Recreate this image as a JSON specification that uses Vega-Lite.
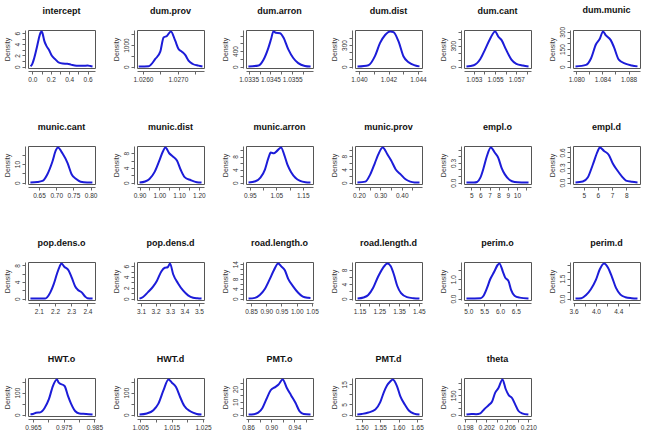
{
"$schema":"https://vega.github.io/schema/vega-lite/v6.json",
"padding":{"left":2,"top":5,"right":0,"bottom":0},
"background":"white",
"datasets":{"d":[
{"p":"intercept","x":-0.02,"y":0.05},{"p":"intercept","x":0.0,"y":0.5},{"p":"intercept","x":0.02,"y":1.5},{"p":"intercept","x":0.05,"y":3.5},{"p":"intercept","x":0.07,"y":5.0},{"p":"intercept","x":0.09,"y":6.1},{"p":"intercept","x":0.10,"y":6.3},{"p":"intercept","x":0.11,"y":6.0},{"p":"intercept","x":0.13,"y":4.6},{"p":"intercept","x":0.15,"y":3.8},{"p":"intercept","x":0.18,"y":3.0},{"p":"intercept","x":0.21,"y":2.0},{"p":"intercept","x":0.25,"y":1.3},{"p":"intercept","x":0.29,"y":0.7},{"p":"intercept","x":0.33,"y":0.55},{"p":"intercept","x":0.38,"y":0.5},{"p":"intercept","x":0.42,"y":0.35},{"p":"intercept","x":0.46,"y":0.2},{"p":"intercept","x":0.50,"y":0.15},{"p":"intercept","x":0.55,"y":0.15},{"p":"intercept","x":0.60,"y":0.18},{"p":"intercept","x":0.63,"y":0.1},{"p":"intercept","x":0.653,"y":0.02},
{"p":"dum.prov","x":1.025878,"y":2},{"p":"dum.prov","x":1.026163,"y":20},{"p":"dum.prov","x":1.026354,"y":354},{"p":"dum.prov","x":1.026497,"y":690},{"p":"dum.prov","x":1.026592,"y":1350},{"p":"dum.prov","x":1.026687,"y":1420},{"p":"dum.prov","x":1.026801,"y":1630},{"p":"dum.prov","x":1.026925,"y":1200},{"p":"dum.prov","x":1.02702,"y":815},{"p":"dum.prov","x":1.027116,"y":690},{"p":"dum.prov","x":1.027211,"y":540},{"p":"dum.prov","x":1.027306,"y":280},{"p":"dum.prov","x":1.02743,"y":120},{"p":"dum.prov","x":1.027592,"y":45},{"p":"dum.prov","x":1.027706,"y":5},
{"p":"dum.arron","x":1.03349,"y":2},{"p":"dum.arron","x":1.033955,"y":30},{"p":"dum.arron","x":1.034182,"y":178},{"p":"dum.arron","x":1.034409,"y":490},{"p":"dum.arron","x":1.03453,"y":710},{"p":"dum.arron","x":1.034636,"y":906},{"p":"dum.arron","x":1.034742,"y":870},{"p":"dum.arron","x":1.034939,"y":860},{"p":"dum.arron","x":1.03509,"y":755},{"p":"dum.arron","x":1.035318,"y":444},{"p":"dum.arron","x":1.035545,"y":222},{"p":"dum.arron","x":1.035773,"y":89},{"p":"dum.arron","x":1.036076,"y":18},{"p":"dum.arron","x":1.03634,"y":2},
{"p":"dum.dist","x":1.0399,"y":1},{"p":"dum.dist","x":1.04064,"y":20},{"p":"dum.dist","x":1.04109,"y":150},{"p":"dum.dist","x":1.04143,"y":330},{"p":"dum.dist","x":1.04177,"y":440},{"p":"dum.dist","x":1.04211,"y":490},{"p":"dum.dist","x":1.04234,"y":480},{"p":"dum.dist","x":1.04268,"y":350},{"p":"dum.dist","x":1.04302,"y":140},{"p":"dum.dist","x":1.04336,"y":60},{"p":"dum.dist","x":1.04382,"y":15},{"p":"dum.dist","x":1.0441,"y":3},
{"p":"dum.cant","x":1.05231,"y":1},{"p":"dum.cant","x":1.053,"y":20},{"p":"dum.cant","x":1.053615,"y":110},{"p":"dum.cant","x":1.054077,"y":250},{"p":"dum.cant","x":1.054538,"y":400},{"p":"dum.cant","x":1.055,"y":505},{"p":"dum.cant","x":1.055308,"y":430},{"p":"dum.cant","x":1.055615,"y":380},{"p":"dum.cant","x":1.056015,"y":250},{"p":"dum.cant","x":1.056538,"y":100},{"p":"dum.cant","x":1.057,"y":40},{"p":"dum.cant","x":1.057615,"y":15},{"p":"dum.cant","x":1.05815,"y":2},
{"p":"dum.munic","x":1.07988,"y":1},{"p":"dum.munic","x":1.0815,"y":15},{"p":"dum.munic","x":1.08225,"y":70},{"p":"dum.munic","x":1.083,"y":190},{"p":"dum.munic","x":1.0836,"y":240},{"p":"dum.munic","x":1.0841,"y":303},{"p":"dum.munic","x":1.0845,"y":270},{"p":"dum.munic","x":1.08525,"y":230},{"p":"dum.munic","x":1.08575,"y":170},{"p":"dum.munic","x":1.0865,"y":60},{"p":"dum.munic","x":1.0875,"y":25},{"p":"dum.munic","x":1.0885,"y":10},{"p":"dum.munic","x":1.08937,"y":2},
{"p":"munic.cant","x":0.625,"y":0.05},{"p":"munic.cant","x":0.645,"y":0.3},{"p":"munic.cant","x":0.66,"y":0.9},{"p":"munic.cant","x":0.674,"y":4.4},{"p":"munic.cant","x":0.689,"y":11.4},{"p":"munic.cant","x":0.699,"y":17.5},{"p":"munic.cant","x":0.705,"y":19},{"p":"munic.cant","x":0.718,"y":15.8},{"p":"munic.cant","x":0.733,"y":10.5},{"p":"munic.cant","x":0.745,"y":4.4},{"p":"munic.cant","x":0.757,"y":2.1},{"p":"munic.cant","x":0.771,"y":0.5},{"p":"munic.cant","x":0.79,"y":0.05},{"p":"munic.cant","x":0.805,"y":0},
{"p":"munic.dist","x":0.90,"y":0},{"p":"munic.dist","x":0.928,"y":0.3},{"p":"munic.dist","x":0.95,"y":1},{"p":"munic.dist","x":0.977,"y":3},{"p":"munic.dist","x":1.0,"y":6},{"p":"munic.dist","x":1.018,"y":8.5},{"p":"munic.dist","x":1.031,"y":9.6},{"p":"munic.dist","x":1.05,"y":8},{"p":"munic.dist","x":1.067,"y":7.2},{"p":"munic.dist","x":1.089,"y":6},{"p":"munic.dist","x":1.108,"y":3.5},{"p":"munic.dist","x":1.128,"y":1.5},{"p":"munic.dist","x":1.158,"y":0.7},{"p":"munic.dist","x":1.19,"y":0.1},{"p":"munic.dist","x":1.2135,"y":0},
{"p":"munic.arron","x":0.945,"y":0},{"p":"munic.arron","x":0.971,"y":0.4},{"p":"munic.arron","x":0.99,"y":1.5},{"p":"munic.arron","x":1.007,"y":4},{"p":"munic.arron","x":1.02,"y":7.5},{"p":"munic.arron","x":1.029,"y":9.2},{"p":"munic.arron","x":1.041,"y":9.0},{"p":"munic.arron","x":1.05,"y":9.5},{"p":"munic.arron","x":1.068,"y":10.8},{"p":"munic.arron","x":1.08,"y":8.5},{"p":"munic.arron","x":1.092,"y":5.5},{"p":"munic.arron","x":1.106,"y":3.2},{"p":"munic.arron","x":1.122,"y":1.5},{"p":"munic.arron","x":1.14,"y":0.5},{"p":"munic.arron","x":1.16,"y":0.1},{"p":"munic.arron","x":1.179,"y":0},
{"p":"munic.prov","x":0.193,"y":0},{"p":"munic.prov","x":0.23,"y":0.3},{"p":"munic.prov","x":0.253,"y":2.5},{"p":"munic.prov","x":0.275,"y":6},{"p":"munic.prov","x":0.29,"y":8.5},{"p":"munic.prov","x":0.311,"y":10.7},{"p":"munic.prov","x":0.334,"y":8.5},{"p":"munic.prov","x":0.35,"y":6.8},{"p":"munic.prov","x":0.372,"y":4},{"p":"munic.prov","x":0.395,"y":2.5},{"p":"munic.prov","x":0.418,"y":1},{"p":"munic.prov","x":0.44,"y":0.3},{"p":"munic.prov","x":0.46,"y":0.05},{"p":"munic.prov","x":0.483,"y":0},
{"p":"empl.o","x":4.48,"y":0},{"p":"empl.o","x":5.3,"y":0.002},{"p":"empl.o","x":5.64,"y":0.01},{"p":"empl.o","x":6.0,"y":0.075},{"p":"empl.o","x":6.36,"y":0.225},{"p":"empl.o","x":6.71,"y":0.4},{"p":"empl.o","x":7.14,"y":0.535},{"p":"empl.o","x":7.61,"y":0.45},{"p":"empl.o","x":7.96,"y":0.375},{"p":"empl.o","x":8.32,"y":0.225},{"p":"empl.o","x":8.68,"y":0.125},{"p":"empl.o","x":9.21,"y":0.04},{"p":"empl.o","x":9.75,"y":0.01},{"p":"empl.o","x":10.5,"y":0.002},{"p":"empl.o","x":11.27,"y":0},
{"p":"empl.d","x":4.415,"y":0},{"p":"empl.d","x":4.93,"y":0.02},{"p":"empl.d","x":5.28,"y":0.1},{"p":"empl.d","x":5.63,"y":0.35},{"p":"empl.d","x":5.98,"y":0.62},{"p":"empl.d","x":6.13,"y":0.70},{"p":"empl.d","x":6.43,"y":0.63},{"p":"empl.d","x":6.77,"y":0.55},{"p":"empl.d","x":7.05,"y":0.38},{"p":"empl.d","x":7.35,"y":0.25},{"p":"empl.d","x":7.7,"y":0.12},{"p":"empl.d","x":7.98,"y":0.04},{"p":"empl.d","x":8.4,"y":0.015},{"p":"empl.d","x":8.795,"y":0},
{"p":"pop.dens.o","x":2.048,"y":0},{"p":"pop.dens.o","x":2.14,"y":0.02},{"p":"pop.dens.o","x":2.151,"y":0.3},{"p":"pop.dens.o","x":2.171,"y":1.5},{"p":"pop.dens.o","x":2.192,"y":3.5},{"p":"pop.dens.o","x":2.212,"y":6},{"p":"pop.dens.o","x":2.229,"y":7.8},{"p":"pop.dens.o","x":2.239,"y":8.5},{"p":"pop.dens.o","x":2.257,"y":7.7},{"p":"pop.dens.o","x":2.284,"y":6.8},{"p":"pop.dens.o","x":2.304,"y":5},{"p":"pop.dens.o","x":2.324,"y":3},{"p":"pop.dens.o","x":2.339,"y":2.2},{"p":"pop.dens.o","x":2.365,"y":1.5},{"p":"pop.dens.o","x":2.386,"y":0.5},{"p":"pop.dens.o","x":2.4,"y":0.1},{"p":"pop.dens.o","x":2.432,"y":0},
{"p":"pop.dens.d","x":3.089,"y":0},{"p":"pop.dens.d","x":3.114,"y":0.3},{"p":"pop.dens.d","x":3.148,"y":1.2},{"p":"pop.dens.d","x":3.183,"y":2.2},{"p":"pop.dens.d","x":3.21,"y":3.3},{"p":"pop.dens.d","x":3.24,"y":5.0},{"p":"pop.dens.d","x":3.264,"y":5.7},{"p":"pop.dens.d","x":3.284,"y":5.8},{"p":"pop.dens.d","x":3.30,"y":6.5},{"p":"pop.dens.d","x":3.322,"y":4.5},{"p":"pop.dens.d","x":3.356,"y":2.8},{"p":"pop.dens.d","x":3.39,"y":1.5},{"p":"pop.dens.d","x":3.425,"y":0.6},{"p":"pop.dens.d","x":3.46,"y":0.15},{"p":"pop.dens.d","x":3.49,"y":0.05},{"p":"pop.dens.d","x":3.518,"y":0},
{"p":"road.length.o","x":0.842,"y":0},{"p":"road.length.o","x":0.863,"y":0.3},{"p":"road.length.o","x":0.879,"y":1.5},{"p":"road.length.o","x":0.896,"y":4},{"p":"road.length.o","x":0.912,"y":8},{"p":"road.length.o","x":0.925,"y":11.5},{"p":"road.length.o","x":0.939,"y":14.3},{"p":"road.length.o","x":0.95,"y":13},{"p":"road.length.o","x":0.961,"y":11.5},{"p":"road.length.o","x":0.972,"y":8},{"p":"road.length.o","x":0.988,"y":5},{"p":"road.length.o","x":1.004,"y":2.5},{"p":"road.length.o","x":1.02,"y":0.8},{"p":"road.length.o","x":1.037,"y":0.3},{"p":"road.length.o","x":1.045,"y":0.2},
{"p":"road.length.d","x":1.14,"y":0},{"p":"road.length.d","x":1.17,"y":0.3},{"p":"road.length.d","x":1.194,"y":1},{"p":"road.length.d","x":1.219,"y":3},{"p":"road.length.d","x":1.243,"y":6},{"p":"road.length.d","x":1.268,"y":8.5},{"p":"road.length.d","x":1.291,"y":9.8},{"p":"road.length.d","x":1.308,"y":9},{"p":"road.length.d","x":1.325,"y":6.5},{"p":"road.length.d","x":1.341,"y":3.5},{"p":"road.length.d","x":1.36,"y":1.5},{"p":"road.length.d","x":1.39,"y":0.4},{"p":"road.length.d","x":1.423,"y":0.1},{"p":"road.length.d","x":1.453,"y":0},
{"p":"perim.o","x":4.94,"y":0},{"p":"perim.o","x":5.39,"y":0.02},{"p":"perim.o","x":5.48,"y":0.15},{"p":"perim.o","x":5.59,"y":0.55},{"p":"perim.o","x":5.69,"y":1.0},{"p":"perim.o","x":5.82,"y":1.4},{"p":"perim.o","x":5.93,"y":1.75},{"p":"perim.o","x":5.98,"y":1.82},{"p":"perim.o","x":6.09,"y":1.4},{"p":"perim.o","x":6.16,"y":1.1},{"p":"perim.o","x":6.27,"y":0.9},{"p":"perim.o","x":6.35,"y":0.45},{"p":"perim.o","x":6.46,"y":0.15},{"p":"perim.o","x":6.62,"y":0.05},{"p":"perim.o","x":6.9,"y":0},
{"p":"perim.d","x":3.635,"y":0},{"p":"perim.d","x":3.74,"y":0.03},{"p":"perim.d","x":3.82,"y":0.25},{"p":"perim.d","x":3.91,"y":0.7},{"p":"perim.d","x":4.0,"y":1.4},{"p":"perim.d","x":4.07,"y":2.2},{"p":"perim.d","x":4.146,"y":2.64},{"p":"perim.d","x":4.22,"y":2.3},{"p":"perim.d","x":4.29,"y":1.6},{"p":"perim.d","x":4.36,"y":0.8},{"p":"perim.d","x":4.44,"y":0.3},{"p":"perim.d","x":4.53,"y":0.1},{"p":"perim.d","x":4.64,"y":0.03},{"p":"perim.d","x":4.745,"y":0},
{"p":"HWT.o","x":0.9642,"y":2},{"p":"HWT.o","x":0.965,"y":3},{"p":"HWT.o","x":0.966,"y":8},{"p":"HWT.o","x":0.9674,"y":10},{"p":"HWT.o","x":0.9688,"y":30},{"p":"HWT.o","x":0.9702,"y":70},{"p":"HWT.o","x":0.9715,"y":130},{"p":"HWT.o","x":0.9728,"y":160},{"p":"HWT.o","x":0.9734,"y":145},{"p":"HWT.o","x":0.9753,"y":130},{"p":"HWT.o","x":0.9764,"y":85},{"p":"HWT.o","x":0.9774,"y":50},{"p":"HWT.o","x":0.9788,"y":15},{"p":"HWT.o","x":0.9801,"y":5},{"p":"HWT.o","x":0.9823,"y":3},{"p":"HWT.o","x":0.9844,"y":0},
{"p":"HWT.d","x":1.0048,"y":0},{"p":"HWT.d","x":1.0071,"y":5},{"p":"HWT.d","x":1.0092,"y":20},{"p":"HWT.d","x":1.0108,"y":50},{"p":"HWT.d","x":1.0124,"y":110},{"p":"HWT.d","x":1.014,"y":160},{"p":"HWT.d","x":1.0151,"y":145},{"p":"HWT.d","x":1.0164,"y":125},{"p":"HWT.d","x":1.0177,"y":80},{"p":"HWT.d","x":1.019,"y":40},{"p":"HWT.d","x":1.0209,"y":15},{"p":"HWT.d","x":1.023,"y":3},{"p":"HWT.d","x":1.0245,"y":0},
{"p":"PMT.o","x":0.861,"y":0},{"p":"PMT.o","x":0.87,"y":0.3},{"p":"PMT.o","x":0.8775,"y":1.5},{"p":"PMT.o","x":0.8846,"y":5},{"p":"PMT.o","x":0.8916,"y":12},{"p":"PMT.o","x":0.899,"y":19},{"p":"PMT.o","x":0.9068,"y":21.5},{"p":"PMT.o","x":0.9126,"y":23.5},{"p":"PMT.o","x":0.9197,"y":27.5},{"p":"PMT.o","x":0.9267,"y":21},{"p":"PMT.o","x":0.9343,"y":15},{"p":"PMT.o","x":0.942,"y":9},{"p":"PMT.o","x":0.949,"y":2.5},{"p":"PMT.o","x":0.956,"y":0.5},{"p":"PMT.o","x":0.9677,"y":0.1},
{"p":"PMT.d","x":1.488,"y":0},{"p":"PMT.d","x":1.5,"y":0.3},{"p":"PMT.d","x":1.518,"y":1},{"p":"PMT.d","x":1.537,"y":2.5},{"p":"PMT.d","x":1.55,"y":6},{"p":"PMT.d","x":1.56,"y":11},{"p":"PMT.d","x":1.569,"y":14.5},{"p":"PMT.d","x":1.578,"y":16.5},{"p":"PMT.d","x":1.5844,"y":17.4},{"p":"PMT.d","x":1.596,"y":14},{"p":"PMT.d","x":1.605,"y":9},{"p":"PMT.d","x":1.617,"y":5},{"p":"PMT.d","x":1.628,"y":2},{"p":"PMT.d","x":1.642,"y":0.5},{"p":"PMT.d","x":1.657,"y":0},
{"p":"theta","x":0.19827,"y":0},{"p":"theta","x":0.1992,"y":5},{"p":"theta","x":0.2001,"y":3},{"p":"theta","x":0.2009,"y":10},{"p":"theta","x":0.2016,"y":40},{"p":"theta","x":0.2025,"y":75},{"p":"theta","x":0.2031,"y":100},{"p":"theta","x":0.2037,"y":170},{"p":"theta","x":0.2043,"y":205},{"p":"theta","x":0.2051,"y":275},{"p":"theta","x":0.2057,"y":200},{"p":"theta","x":0.2063,"y":150},{"p":"theta","x":0.2069,"y":130},{"p":"theta","x":0.2075,"y":80},{"p":"theta","x":0.2081,"y":30},{"p":"theta","x":0.2088,"y":10},{"p":"theta","x":0.21,"y":0}
]},
"columns":6,
"spacing":{"row":78,"column":42},
"bounds":"flush",
"concat":[
{"title":"intercept","data":{"name":"d"},"transform":[{"filter":"datum.p=='intercept'"}],"mark":{"type":"line","color":"#1c1cd8","strokeWidth":2,"interpolate":"monotone"},
"encoding":{"x":{"field":"x","type":"quantitative","title":null,"scale":{"domain":[-0.047,0.68],"nice":false,"zero":false},"axis":{"values":[0,0.1,0.2,0.3,0.4,0.5,0.6],"format":".1f","labelExpr":"indexof(['0.0','0.2','0.4','0.6'],datum.label)>=0?datum.label:''"}},
"y":{"field":"y","type":"quantitative","title":"Density","scale":{"domain":[-0.25,6.55],"nice":false,"zero":false},"axis":{"values":[0,1,2,3,4,5,6],"format":"d","labelExpr":"indexof(['0','2','4','6'],datum.label)>=0?datum.label:''"}}}},
{"title":"dum.prov","data":{"name":"d"},"transform":[{"filter":"datum.p=='dum.prov'"}],"mark":{"type":"line","color":"#1c1cd8","strokeWidth":2,"interpolate":"monotone"},
"encoding":{"x":{"field":"x","type":"quantitative","title":null,"scale":{"domain":[1.02583,1.02775],"nice":false,"zero":false},"axis":{"values":[1.026,1.0265,1.027,1.0275],"format":".4f","labelExpr":"indexof(['1.0260','1.0270'],datum.label)>=0?datum.label:''"}},
"y":{"field":"y","type":"quantitative","title":"Density","scale":{"domain":[-65,1695],"nice":false,"zero":false},"axis":{"values":[0,500,1000,1500],"format":"d","labelExpr":"indexof(['0','1000'],datum.label)>=0?datum.label:''"}}}},
{"title":"dum.arron","data":{"name":"d"},"transform":[{"filter":"datum.p=='dum.arron'"}],"mark":{"type":"line","color":"#1c1cd8","strokeWidth":2,"interpolate":"monotone"},
"encoding":{"x":{"field":"x","type":"quantitative","title":null,"scale":{"domain":[1.03338,1.03645],"nice":false,"zero":false},"axis":{"values":[1.0335,1.034,1.0345,1.035,1.0355,1.036],"format":".4f","labelExpr":"indexof(['1.0335','1.0345','1.0355'],datum.label)>=0?datum.label:''"}},
"y":{"field":"y","type":"quantitative","title":"Density","scale":{"domain":[-36,942],"nice":false,"zero":false},"axis":{"values":[0,200,400,600,800],"format":"d","labelExpr":"indexof(['0','400'],datum.label)>=0?datum.label:''"}}}},
{"title":"dum.dist","data":{"name":"d"},"transform":[{"filter":"datum.p=='dum.dist'"}],"mark":{"type":"line","color":"#1c1cd8","strokeWidth":2,"interpolate":"monotone"},
"encoding":{"x":{"field":"x","type":"quantitative","title":null,"scale":{"domain":[1.03973,1.04427],"nice":false,"zero":false},"axis":{"values":[1.04,1.041,1.042,1.043,1.044],"format":".3f","labelExpr":"indexof(['1.040','1.042','1.044'],datum.label)>=0?datum.label:''"}},
"y":{"field":"y","type":"quantitative","title":"Density","scale":{"domain":[-19.6,509.6],"nice":false,"zero":false},"axis":{"values":[0,100,200,300,400],"format":"d","labelExpr":"indexof(['0','300'],datum.label)>=0?datum.label:''"}}}},
{"title":"dum.cant","data":{"name":"d"},"transform":[{"filter":"datum.p=='dum.cant'"}],"mark":{"type":"line","color":"#1c1cd8","strokeWidth":2,"interpolate":"monotone"},
"encoding":{"x":{"field":"x","type":"quantitative","title":null,"scale":{"domain":[1.05208,1.05838],"nice":false,"zero":false},"axis":{"values":[1.053,1.054,1.055,1.056,1.057,1.058],"format":".3f","labelExpr":"indexof(['1.053','1.055','1.057'],datum.label)>=0?datum.label:''"}},
"y":{"field":"y","type":"quantitative","title":"Density","scale":{"domain":[-20,525],"nice":false,"zero":false},"axis":{"values":[0,100,200,300,400,500],"format":"d","labelExpr":"indexof(['0','300'],datum.label)>=0?datum.label:''"}}}},
{"title":"dum.munic","data":{"name":"d"},"transform":[{"filter":"datum.p=='dum.munic'"}],"mark":{"type":"line","color":"#1c1cd8","strokeWidth":2,"interpolate":"monotone"},
"encoding":{"x":{"field":"x","type":"quantitative","title":null,"scale":{"domain":[1.0795,1.08975],"nice":false,"zero":false},"axis":{"values":[1.08,1.082,1.084,1.086,1.088],"format":".3f","labelExpr":"indexof(['1.080','1.084','1.088'],datum.label)>=0?datum.label:''"}},
"y":{"field":"y","type":"quantitative","title":"Density","scale":{"domain":[-12,315],"nice":false,"zero":false},"axis":{"values":[0,50,100,150,200,250,300],"format":"d","labelExpr":"indexof(['0','150','300'],datum.label)>=0?datum.label:''"}}}},
{"title":"munic.cant","data":{"name":"d"},"transform":[{"filter":"datum.p=='munic.cant'"}],"mark":{"type":"line","color":"#1c1cd8","strokeWidth":2,"interpolate":"monotone"},
"encoding":{"x":{"field":"x","type":"quantitative","title":null,"scale":{"domain":[0.618,0.8126],"nice":false,"zero":false},"axis":{"values":[0.65,0.7,0.75,0.8],"format":".2f"}},
"y":{"field":"y","type":"quantitative","title":"Density","scale":{"domain":[-0.76,19.76],"nice":false,"zero":false},"axis":{"values":[0,5,10,15],"format":"d","labelExpr":"indexof(['0','10'],datum.label)>=0?datum.label:''"}}}},
{"title":"munic.dist","data":{"name":"d"},"transform":[{"filter":"datum.p=='munic.dist'"}],"mark":{"type":"line","color":"#1c1cd8","strokeWidth":2,"interpolate":"monotone"},
"encoding":{"x":{"field":"x","type":"quantitative","title":null,"scale":{"domain":[0.887,1.226],"nice":false,"zero":false},"axis":{"values":[0.9,0.95,1.0,1.05,1.1,1.15,1.2],"format":".2f","labelExpr":"indexof(['0.90','1.00','1.10','1.20'],datum.label)>=0?datum.label:''"}},
"y":{"field":"y","type":"quantitative","title":"Density","scale":{"domain":[-0.38,9.98],"nice":false,"zero":false},"axis":{"values":[0,2,4,6,8],"format":"d","labelExpr":"indexof(['0','4','8'],datum.label)>=0?datum.label:''"}}}},
{"title":"munic.arron","data":{"name":"d"},"transform":[{"filter":"datum.p=='munic.arron'"}],"mark":{"type":"line","color":"#1c1cd8","strokeWidth":2,"interpolate":"monotone"},
"encoding":{"x":{"field":"x","type":"quantitative","title":null,"scale":{"domain":[0.9355,1.1886],"nice":false,"zero":false},"axis":{"values":[0.95,1.0,1.05,1.1,1.15],"format":".2f","labelExpr":"indexof(['0.95','1.05','1.15'],datum.label)>=0?datum.label:''"}},
"y":{"field":"y","type":"quantitative","title":"Density","scale":{"domain":[-0.43,11.23],"nice":false,"zero":false},"axis":{"values":[0,2,4,6,8,10],"format":"d","labelExpr":"indexof(['0','4','8'],datum.label)>=0?datum.label:''"}}}},
{"title":"munic.prov","data":{"name":"d"},"transform":[{"filter":"datum.p=='munic.prov'"}],"mark":{"type":"line","color":"#1c1cd8","strokeWidth":2,"interpolate":"monotone"},
"encoding":{"x":{"field":"x","type":"quantitative","title":null,"scale":{"domain":[0.1817,0.4947],"nice":false,"zero":false},"axis":{"values":[0.2,0.25,0.3,0.35,0.4,0.45],"format":".2f","labelExpr":"indexof(['0.20','0.30','0.40'],datum.label)>=0?datum.label:''"}},
"y":{"field":"y","type":"quantitative","title":"Density","scale":{"domain":[-0.43,11.13],"nice":false,"zero":false},"axis":{"values":[0,2,4,6,8,10],"format":"d","labelExpr":"indexof(['0','4','8'],datum.label)>=0?datum.label:''"}}}},
{"title":"empl.o","data":{"name":"d"},"transform":[{"filter":"datum.p=='empl.o'"}],"mark":{"type":"line","color":"#1c1cd8","strokeWidth":2,"interpolate":"monotone"},
"encoding":{"x":{"field":"x","type":"quantitative","title":null,"scale":{"domain":[4.21,11.54],"nice":false,"zero":false},"axis":{"values":[5,6,7,8,9,10,11],"format":"d","labelExpr":"datum.label=='11'?'':datum.label"}},
"y":{"field":"y","type":"quantitative","title":"Density","scale":{"domain":[-0.021,0.556],"nice":false,"zero":false},"axis":{"values":[0,0.1,0.2,0.3,0.4,0.5],"format":".1f","labelExpr":"indexof(['0.0','0.3'],datum.label)>=0?datum.label:''"}}}},
{"title":"empl.d","data":{"name":"d"},"transform":[{"filter":"datum.p=='empl.d'"}],"mark":{"type":"line","color":"#1c1cd8","strokeWidth":2,"interpolate":"monotone"},
"encoding":{"x":{"field":"x","type":"quantitative","title":null,"scale":{"domain":[4.24,8.97],"nice":false,"zero":false},"axis":{"values":[5,6,7,8],"format":"d"}},
"y":{"field":"y","type":"quantitative","title":"Density","scale":{"domain":[-0.028,0.728],"nice":false,"zero":false},"axis":{"values":[0,0.1,0.2,0.3,0.4,0.5,0.6,0.7],"format":".1f","labelExpr":"indexof(['0.0','0.3','0.6'],datum.label)>=0?datum.label:''"}}}},
{"title":"pop.dens.o","data":{"name":"d"},"transform":[{"filter":"datum.p=='pop.dens.o'"}],"mark":{"type":"line","color":"#1c1cd8","strokeWidth":2,"interpolate":"monotone"},
"encoding":{"x":{"field":"x","type":"quantitative","title":null,"scale":{"domain":[2.033,2.447],"nice":false,"zero":false},"axis":{"values":[2.1,2.2,2.3,2.4],"format":".1f"}},
"y":{"field":"y","type":"quantitative","title":"Density","scale":{"domain":[-0.34,8.84],"nice":false,"zero":false},"axis":{"values":[0,2,4,6,8],"format":"d","labelExpr":"indexof(['0','4','8'],datum.label)>=0?datum.label:''"}}}},
{"title":"pop.dens.d","data":{"name":"d"},"transform":[{"filter":"datum.p=='pop.dens.d'"}],"mark":{"type":"line","color":"#1c1cd8","strokeWidth":2,"interpolate":"monotone"},
"encoding":{"x":{"field":"x","type":"quantitative","title":null,"scale":{"domain":[3.072,3.535],"nice":false,"zero":false},"axis":{"values":[3.1,3.2,3.3,3.4,3.5],"format":".1f"}},
"y":{"field":"y","type":"quantitative","title":"Density","scale":{"domain":[-0.26,6.76],"nice":false,"zero":false},"axis":{"values":[0,1,2,3,4,5,6],"format":"d","labelExpr":"indexof(['0','2','4','6'],datum.label)>=0?datum.label:''"}}}},
{"title":"road.length.o","data":{"name":"d"},"transform":[{"filter":"datum.p=='road.length.o'"}],"mark":{"type":"line","color":"#1c1cd8","strokeWidth":2,"interpolate":"monotone"},
"encoding":{"x":{"field":"x","type":"quantitative","title":null,"scale":{"domain":[0.8337,1.0533],"nice":false,"zero":false},"axis":{"values":[0.85,0.9,0.95,1.0,1.05],"format":".2f"}},
"y":{"field":"y","type":"quantitative","title":"Density","scale":{"domain":[-0.57,14.87],"nice":false,"zero":false},"axis":{"values":[0,2,4,6,8,10,12,14],"format":"d","labelExpr":"indexof(['0','4','8','14'],datum.label)>=0?datum.label:''"}}}},
{"title":"road.length.d","data":{"name":"d"},"transform":[{"filter":"datum.p=='road.length.d'"}],"mark":{"type":"line","color":"#1c1cd8","strokeWidth":2,"interpolate":"monotone"},
"encoding":{"x":{"field":"x","type":"quantitative","title":null,"scale":{"domain":[1.127,1.466],"nice":false,"zero":false},"axis":{"values":[1.15,1.2,1.25,1.3,1.35,1.4,1.45],"format":".2f","labelExpr":"indexof(['1.15','1.25','1.35','1.45'],datum.label)>=0?datum.label:''"}},
"y":{"field":"y","type":"quantitative","title":"Density","scale":{"domain":[-0.39,10.19],"nice":false,"zero":false},"axis":{"values":[0,2,4,6,8],"format":"d","labelExpr":"indexof(['0','4','8'],datum.label)>=0?datum.label:''"}}}},
{"title":"perim.o","data":{"name":"d"},"transform":[{"filter":"datum.p=='perim.o'"}],"mark":{"type":"line","color":"#1c1cd8","strokeWidth":2,"interpolate":"monotone"},
"encoding":{"x":{"field":"x","type":"quantitative","title":null,"scale":{"domain":[4.862,6.98],"nice":false,"zero":false},"axis":{"values":[5,5.5,6,6.5],"format":".1f"}},
"y":{"field":"y","type":"quantitative","title":"Density","scale":{"domain":[-0.073,1.893],"nice":false,"zero":false},"axis":{"values":[0,0.5,1,1.5],"format":".1f","labelExpr":"indexof(['0.0','1.0'],datum.label)>=0?datum.label:''"}}}},
{"title":"perim.d","data":{"name":"d"},"transform":[{"filter":"datum.p=='perim.d'"}],"mark":{"type":"line","color":"#1c1cd8","strokeWidth":2,"interpolate":"monotone"},
"encoding":{"x":{"field":"x","type":"quantitative","title":null,"scale":{"domain":[3.59,4.79],"nice":false,"zero":false},"axis":{"values":[3.6,3.8,4.0,4.2,4.4,4.6],"format":".1f","labelExpr":"indexof(['3.6','4.0','4.4'],datum.label)>=0?datum.label:''"}},
"y":{"field":"y","type":"quantitative","title":"Density","scale":{"domain":[-0.106,2.746],"nice":false,"zero":false},"axis":{"values":[0,0.5,1,1.5,2,2.5],"format":".1f","labelExpr":"indexof(['0.0','1.5'],datum.label)>=0?datum.label:''"}}}},
{"title":"HWT.o","data":{"name":"d"},"transform":[{"filter":"datum.p=='HWT.o'"}],"mark":{"type":"line","color":"#1c1cd8","strokeWidth":2,"interpolate":"monotone"},
"encoding":{"x":{"field":"x","type":"quantitative","title":null,"scale":{"domain":[0.9634,0.9852],"nice":false,"zero":false},"axis":{"values":[0.965,0.97,0.975,0.98,0.985],"format":".3f","labelExpr":"indexof(['0.965','0.975','0.985'],datum.label)>=0?datum.label:''"}},
"y":{"field":"y","type":"quantitative","title":"Density","scale":{"domain":[-6.4,166.4],"nice":false,"zero":false},"axis":{"values":[0,50,100,150],"format":"d","labelExpr":"indexof(['0','100'],datum.label)>=0?datum.label:''"}}}},
{"title":"HWT.d","data":{"name":"d"},"transform":[{"filter":"datum.p=='HWT.d'"}],"mark":{"type":"line","color":"#1c1cd8","strokeWidth":2,"interpolate":"monotone"},
"encoding":{"x":{"field":"x","type":"quantitative","title":null,"scale":{"domain":[1.004,1.0253],"nice":false,"zero":false},"axis":{"values":[1.005,1.01,1.015,1.02,1.025],"format":".3f","labelExpr":"indexof(['1.005','1.015','1.025'],datum.label)>=0?datum.label:''"}},
"y":{"field":"y","type":"quantitative","title":"Density","scale":{"domain":[-6.4,166.4],"nice":false,"zero":false},"axis":{"values":[0,50,100,150],"format":"d","labelExpr":"indexof(['0','100'],datum.label)>=0?datum.label:''"}}}},
{"title":"PMT.o","data":{"name":"d"},"transform":[{"filter":"datum.p=='PMT.o'"}],"mark":{"type":"line","color":"#1c1cd8","strokeWidth":2,"interpolate":"monotone"},
"encoding":{"x":{"field":"x","type":"quantitative","title":null,"scale":{"domain":[0.8565,0.972],"nice":false,"zero":false},"axis":{"values":[0.86,0.88,0.9,0.92,0.94,0.96],"format":".2f","labelExpr":"indexof(['0.86','0.90','0.94'],datum.label)>=0?datum.label:''"}},
"y":{"field":"y","type":"quantitative","title":"Density","scale":{"domain":[-1.1,28.6],"nice":false,"zero":false},"axis":{"values":[0,5,10,15,20,25],"format":"d","labelExpr":"indexof(['0','10','20'],datum.label)>=0?datum.label:''"}}}},
{"title":"PMT.d","data":{"name":"d"},"transform":[{"filter":"datum.p=='PMT.d'"}],"mark":{"type":"line","color":"#1c1cd8","strokeWidth":2,"interpolate":"monotone"},
"encoding":{"x":{"field":"x","type":"quantitative","title":null,"scale":{"domain":[1.4817,1.6638],"nice":false,"zero":false},"axis":{"values":[1.5,1.55,1.6,1.65],"format":".2f"}},
"y":{"field":"y","type":"quantitative","title":"Density","scale":{"domain":[-0.7,18.1],"nice":false,"zero":false},"axis":{"values":[0,5,10,15],"format":"d","labelExpr":"indexof(['0','5','15'],datum.label)>=0?datum.label:''"}}}},
{"title":"theta","data":{"name":"d"},"transform":[{"filter":"datum.p=='theta'"}],"mark":{"type":"line","color":"#1c1cd8","strokeWidth":2,"interpolate":"monotone"},
"encoding":{"x":{"field":"x","type":"quantitative","title":null,"scale":{"domain":[0.1978,0.2105],"nice":false,"zero":false},"axis":{"values":[0.198,0.2,0.202,0.204,0.206,0.208,0.21],"format":".3f","labelExpr":"indexof(['0.198','0.202','0.206','0.210'],datum.label)>=0?datum.label:''"}},
"y":{"field":"y","type":"quantitative","title":"Density","scale":{"domain":[-11,286],"nice":false,"zero":false},"axis":{"values":[0,50,100,150,200,250],"format":"d","labelExpr":"indexof(['0','150'],datum.label)>=0?datum.label:''"}}}}
],
"config":{
"view":{"continuousWidth":67,"continuousHeight":38,"stroke":"#555","strokeWidth":1},
"title":{"font":"Liberation Sans","fontSize":9,"fontWeight":"bold","color":"#111","offset":11,"anchor":"middle"},
"axis":{"grid":false,"domainColor":"#666","tickColor":"#666","tickSize":3,"labelFont":"Liberation Sans","labelFontSize":6.5,"labelColor":"#333","labelPadding":2,"offset":3,"titleFont":"Liberation Sans","titleFontSize":7,"titleFontWeight":"normal","titleColor":"#333","titlePadding":4,"labelOverlap":false,"labelFlush":false},
"axisY":{"labelAngle":270,"labelAlign":"center","labelBaseline":"bottom"}
}
}
